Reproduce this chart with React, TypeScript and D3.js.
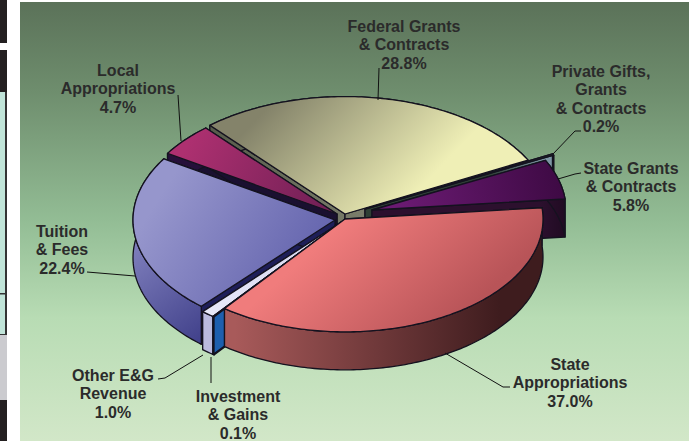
import React from "react";
import * as d3 from "d3";

const sliceNames = ["Federal Grants & Contracts", "Private Gifts, Grants & Contracts", "State Grants & Contracts", "State Appropriations", "Investment & Gains", "Other E&G Revenue", "Tuition & Fees", "Local Appropriations"];
const sliceValues = [28.8, 0.2, 5.8, 37.0, 0.1, 1.0, 22.4, 4.7];
const topColorsA = ["#84836a", "#2e3f35", "#6a1a72", "#f07c7c", "#2a6ab8", "#e8e8f8", "#9696cc", "#ad3070"];
const topColorsB = ["#efefb6", "#2e3f35", "#3e0a44", "#b85458", "#2a6ab8", "#d4d4ee", "#5e5eaa", "#701f55"];
const wallColorsA = ["#565c4a", "#2e3f35", "#2c102e", "#a85a5a", "#1d5fae", "#babade", "#7c7cba", "#26103a"];
const wallColorsB = ["#a0a08c", "#7d96a4", "#1e0a20", "#3e1c1e", "#1d5fae", "#babade", "#40408a", "#26103a"];
const faceColors = [null, null, null, null, "#1d5fae", "#babade", "#1e1e58", "#1a1030"];

const labels: { lines: string[]; cx: number; cy: number }[] = [
  { lines: ["Federal Grants", "& Contracts", "28.8%"], cx: 404, cy: 26 },
  { lines: ["Private Gifts,", "Grants", "& Contracts", "0.2%"], cx: 601, cy: 71 },
  { lines: ["State Grants", "& Contracts", "5.8%"], cx: 631, cy: 168 },
  { lines: ["State", "Appropriations", "37.0%"], cx: 570, cy: 364 },
  { lines: ["Investment", "& Gains", "0.1%"], cx: 238, cy: 396 },
  { lines: ["Other E&G", "Revenue", "1.0%"], cx: 113, cy: 375 },
  { lines: ["Tuition", "& Fees", "22.4%"], cx: 62, cy: 231 },
  { lines: ["Local", "Appropriations", "4.7%"], cx: 118, cy: 70 },
];

const leaders: [number, number][][] = [
  [[379, 68], [378, 100]],
  [[581, 131], [575, 131], [553, 154]],
  [[581, 173], [575, 174], [558, 179]],
  [[510, 387], [503, 387], [445, 353]],
  [[211, 357], [211, 383]],
  [[158, 379], [165, 378], [203, 355]],
  [[87, 272], [135, 276]],
  [[178, 95], [181, 141]],
];

// slice geometry: apex x, apex y, radius
const geometry: [number, number, number][] = [
  [345, 214, 206],
  [365, 209, 211],
  [372, 210, 194],
  [345, 219, 198],
  [343, 221, 212],
  [343, 221, 212],
  [335, 220, 202],
  [337, 214, 200],
];
const gradients: [number, number, number, number][] = [
  [270, 105, 390, 220],
  [540, 150, 560, 180],
  [400, 200, 560, 170],
  [340, 225, 440, 335],
  [200, 300, 220, 320],
  [200, 300, 340, 220],
  [170, 180, 330, 280],
  [190, 140, 330, 210],
];
const wallGradients: [number, number, number, number][] = [
  [210, 0, 520, 0],
  [490, 0, 545, 0],
  [540, 0, 570, 0],
  [235, 0, 500, 0],
  [200, 0, 230, 0],
  [200, 0, 220, 0],
  [135, 250, 205, 340],
  [160, 0, 340, 0],
];

const K = 0.57;
const DEPTH = 38;
const drawOrder = [0, 1, 2, 7, 6, 5, 4, 3];

const pie = d3.pie<number>().sort(null).startAngle(-41 * Math.PI / 180).endAngle((360 - 41) * Math.PI / 180);
const angles = pie(sliceValues);
const line = d3.line();

function at(i: number, a: number, drop = 0): [number, number] {
  const [x, y, r] = geometry[i];
  return [x + r * Math.sin(a), y - r * K * Math.cos(a) + drop];
}
function arcPts(i: number, a0: number, a1: number, drop = 0): [number, number][] {
  const n = Math.max(2, Math.ceil(Math.abs(a1 - a0) * 60));
  return d3.range(n + 1).map((j) => at(i, a0 + ((a1 - a0) * j) / n, drop));
}

export default function App() {
  return (
    <svg width={689} height={441} style={{ position: "absolute", left: 0, top: 0, background: "#fff" }}>
      <defs>
        <linearGradient id="bg" x1="0" y1="0" x2="0" y2="1">
          <stop offset="0" stopColor="#5b7259" />
          <stop offset="0.2" stopColor="#6e8d6d" />
          <stop offset="0.5" stopColor="#93bd95" />
          <stop offset="0.72" stopColor="#b8dcb4" />
          <stop offset="1" stopColor="#d2e7c8" />
        </linearGradient>
        {angles.map((_, i) => (
          <React.Fragment key={i}>
            <linearGradient id={`t${i}`} gradientUnits="userSpaceOnUse" x1={gradients[i][0]} y1={gradients[i][1]} x2={gradients[i][2]} y2={gradients[i][3]}>
              <stop offset="0" stopColor={topColorsA[i]} />
              <stop offset="1" stopColor={topColorsB[i]} />
            </linearGradient>
            <linearGradient id={`w${i}`} gradientUnits="userSpaceOnUse" x1={wallGradients[i][0]} y1={wallGradients[i][1]} x2={wallGradients[i][2]} y2={wallGradients[i][3]}>
              <stop offset="0" stopColor={wallColorsA[i]} />
              <stop offset="1" stopColor={wallColorsB[i]} />
            </linearGradient>
          </React.Fragment>
        ))}
      </defs>

      {/* left page fragments */}
      <rect x={0} y={0} width={7} height={43} fill="#231f20" />
      <rect x={0} y={50} width={7} height={42} fill="#231f20" />
      <rect x={0} y={92} width={6} height={201} fill="#c0e4d8" />
      <rect x={5} y={92} width={2} height={201} fill="#333" />
      <rect x={0} y={293} width={6} height={42} fill="#c0e4d8" />
      <rect x={0} y={293} width={7} height={1.5} fill="#333" />
      <rect x={5} y={293} width={2} height={42} fill="#333" />
      <rect x={0} y={334} width={7} height={1.5} fill="#333" />
      <rect x={0} y={335} width={7} height={65} fill="#cbcbcf" />
      <rect x={0} y={400} width={7} height={41} fill="#231f20" />

      <rect x={20} y={2} width={669} height={439} fill="url(#bg)" />

      {drawOrder.map((i) => {
        const s = angles[i];
        const [ax, ay] = geometry[i];
        const a0 = s.startAngle;
        const a1 = s.endAngle;
        const outerWall = [...arcPts(i, a0, a1), ...arcPts(i, a1, a0, DEPTH)];
        const face = (a: number): [number, number][] => [[ax, ay], at(i, a), at(i, a, DEPTH), [ax, ay + DEPTH]];
        const top: [number, number][] = [[ax, ay], ...arcPts(i, a0, a1)];
        const faceFill = faceColors[i] ?? `url(#w${i})`;
        return (
          <g key={sliceNames[i]} stroke="#14121f" strokeWidth={1.3} strokeLinejoin="round">
            <path d={line(face(a0)) + "Z"} fill={faceFill} />
            <path d={line(face(a1)) + "Z"} fill={faceFill} />
            <path d={line(outerWall) + "Z"} fill={`url(#w${i})`} />
            <path d={line(top) + "Z"} fill={`url(#t${i})`} />
          </g>
        );
      })}

      {leaders.map((pts, i) => (
        <path key={i} d={line(pts) ?? ""} fill="none" stroke="#111" strokeWidth={1} />
      ))}

      {labels.map((l) => (
        <text key={l.lines[0]} textAnchor="middle" fontFamily="'Liberation Sans', Arial, sans-serif" fontWeight={700} fontSize={16} fill="#2b2b2b">
          {l.lines.map((t, j) => (
            <tspan key={j} x={l.cx} y={l.cy + 5.5 + j * 18.5}>{t}</tspan>
          ))}
        </text>
      ))}
    </svg>
  );
}
